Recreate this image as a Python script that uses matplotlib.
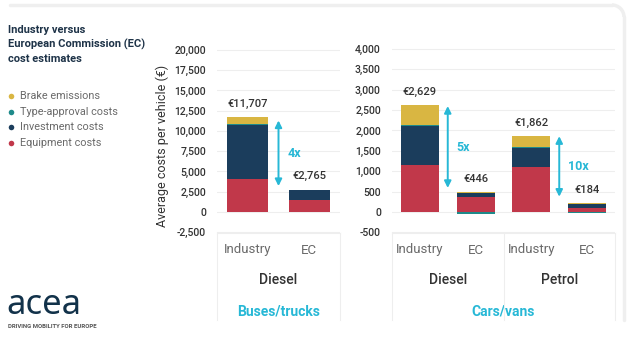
import matplotlib
matplotlib.use("Agg")
import matplotlib.pyplot as plt
from matplotlib.lines import Line2D
from matplotlib.patches import Arc
import matplotlib.transforms as mtransforms
import numpy as np

# cost components, stacked bottom to top
components = ["Equipment costs", "Investment costs", "Type-approval costs", "Brake emissions"]
colors = ["#c1384a", "#1b3d5c", "#1e8a8a", "#d9b642"]

# buses/trucks (diesel): Industry, EC
bus_bars = ["Industry", "EC"]
bus_equipment = [4100, 1500]
bus_investment = [6700, 1265]
bus_typeapproval = [50, 0]
bus_brake = [857, 0]
bus_totals = [11707, 2765]

# cars/vans: Diesel Industry, Diesel EC, Petrol Industry, Petrol EC
car_bars = ["Industry", "EC", "Industry", "EC"]
car_equipment = [1150, 370, 1110, 110]
car_investment = [950, 90, 450, 90]
car_typeapproval = [30, -44, 30, -36]
car_brake = [499, 30, 272, 20]
car_totals = [2629, 446, 1862, 184]

# ratio arrows: (x, top, bottom, label)
bus_ratio = [(0.5, 11300, 3200, "4x")]
car_ratio = [(0.5, 2600, 590, "5x"), (2.5, 1860, 375, "10x")]

bus_ticks = [-2500, 0, 2500, 5000, 7500, 10000, 12500, 15000, 17500, 20000]
car_ticks = [-500, 0, 500, 1000, 1500, 2000, 2500, 3000, 3500, 4000]

plt.rcParams["font.family"] = ["Roboto", "DejaVu Sans"]

CYAN = "#27b8d6"
NAVY = "#1e3348"
DARK = "#333333"
GRAY = "#6a6a6a"
GRID = "#eeeeee"
W, H = 632, 347

fig = plt.figure(figsize=(W / 100, H / 100), dpi=100)
fig.patch.set_facecolor("white")


def fx(px):
    return px / W


def fy(py):
    return 1 - py / H


def stacked(ax, series, totals, width):
    x = np.arange(len(totals))
    pos = np.zeros(len(totals))
    neg = np.zeros(len(totals))
    for vals, c in zip(series, colors):
        vals = np.array(vals, dtype=float)
        bottom = np.where(vals >= 0, pos, neg)
        ax.bar(x, vals, width, bottom=bottom, color=c, edgecolor="none", zorder=3)
        pos = pos + np.clip(vals, 0, None)
        neg = neg + np.clip(vals, None, 0)
    for xi, t in zip(x, totals):
        ax.annotate(f"€{t:,}", (xi, pos[xi]), xytext=(0, 6), textcoords="offset points",
                    ha="center", va="bottom", fontsize=8, color=DARK, fontweight="medium")


def style(ax, ticks, ylim, n):
    ax.set_ylim(*ylim)
    ax.set_xlim(-0.5, n - 0.5)
    ax.set_yticks(ticks)
    ax.set_yticklabels([f"{t:,}" for t in ticks], fontsize=7.5, color=DARK,
                       fontweight="medium")
    ax.set_xticks([])
    ax.tick_params(axis="y", length=0, pad=8)
    for s in ax.spines.values():
        s.set_visible(False)
    ax.grid(axis="y", color=GRID, lw=0.8, zorder=0)
    ax.set_axisbelow(True)


def ratio(ax, items):
    for x, top, bot, lab in items:
        ax.annotate("", xy=(x, top), xytext=(x, bot),
                    arrowprops=dict(arrowstyle="<|-|>", color=CYAN, lw=1.4,
                                    mutation_scale=10, shrinkA=0, shrinkB=0), zorder=4)
        ax.text(x + 0.15, (top + bot) / 2, lab, color=CYAN, fontsize=9,
                fontweight="bold", ha="left", va="center")


# left panel: buses/trucks
ax1 = fig.add_axes([fx(217), fy(240), fx(340) - fx(217), fy(45) - fy(240)])
stacked(ax1, [bus_equipment, bus_investment, bus_typeapproval, bus_brake], bus_totals, 0.67)
style(ax1, bus_ticks, (-3457, 20617), len(bus_bars))
ratio(ax1, bus_ratio)

# right panel: cars/vans
ax2 = fig.add_axes([fx(392), fy(240), fx(615) - fx(392), fy(45) - fy(240)])
stacked(ax2, [car_equipment, car_investment, car_typeapproval, car_brake], car_totals, 0.68)
style(ax2, car_ticks, (-687, 4098), len(car_bars))
ratio(ax2, car_ratio)

fig.text(fx(162), fy(146), "Average costs per vehicle (€)", rotation=90, ha="center",
         va="center", fontsize=9, color=DARK)

# category boxes under the bars
for ax, bars, fuels, group in [
    (ax1, bus_bars, [(0.5, "Diesel")], "Buses/trucks"),
    (ax2, car_bars, [(0.5, "Diesel"), (2.5, "Petrol")], "Cars/vans"),
]:
    tr = mtransforms.blended_transform_factory(ax.transData, fig.transFigure)
    for i, b in enumerate(bars):
        ax.text(i, fy(250), b, transform=tr, ha="center", va="center", fontsize=9.5,
                color=GRAY, clip_on=False)
    for x, f in fuels:
        ax.text(x, fy(280), f, transform=tr, ha="center", va="center", fontsize=10,
                color=DARK, fontweight="medium", clip_on=False)
    n = len(bars)
    ax.text((n - 1) / 2, fy(312), group, transform=tr, ha="center", va="center",
            fontsize=10, color=CYAN, fontweight="bold", clip_on=False)
    edges = [-0.5, n - 0.5] + ([1.5] if n == 4 else [])
    for e in edges:
        fig.add_artist(Line2D([e, e], [fy(233), fy(320)], transform=tr, color=GRID, lw=0.8))
    fig.add_artist(Line2D([-0.5, n - 0.5], [fy(233), fy(233)], transform=tr, color=GRID, lw=0.8))

# title and legend
fig.text(fx(8), fy(25), "Industry versus\nEuropean Commission (EC)\ncost estimates",
         ha="left", va="top", fontsize=8, fontweight="bold", color=NAVY, linespacing=1.45)
legend_rows = [("Brake emissions", colors[3]), ("Type-approval costs", colors[2]),
               ("Investment costs", colors[1]), ("Equipment costs", colors[0])]
for k, (name, c) in enumerate(legend_rows):
    y = fy(96 + k * 15.7)
    fig.add_artist(Line2D([fx(11)], [y], marker="o", ms=4, color=c, mec="none"))
    fig.text(fx(20), y, name, ha="left", va="center", fontsize=7.8, color=GRAY)

# logo
fig.text(fx(6), fy(314), "acea", ha="left", va="baseline", fontsize=25, color="#12324a",
         family=["Noto Sans", "DejaVu Sans"])
fig.text(fx(8), fy(326), "DRIVING MOBILITY FOR EUROPE", ha="left", va="center",
         fontsize=4.3, color="#555555", fontweight="bold")

# light frame, top and right edges
din = fig.dpi_scale_trans
r = 0.12
frame = dict(color="#efefef", lw=2.5, solid_capstyle="round", transform=din)
fig.add_artist(Line2D([0.10, (624 / 100) - r], [(H - 5) / 100, (H - 5) / 100], **frame))
fig.add_artist(Line2D([6.24, 6.24], [(H - 5) / 100 - r, (H - 320) / 100], **frame))
fig.add_artist(Arc((6.24 - r, (H - 5) / 100 - r), 2 * r, 2 * r, theta1=0, theta2=90,
                   color="#efefef", lw=2.5, transform=din))

fig.savefig("out.png", dpi=100, facecolor="white")
